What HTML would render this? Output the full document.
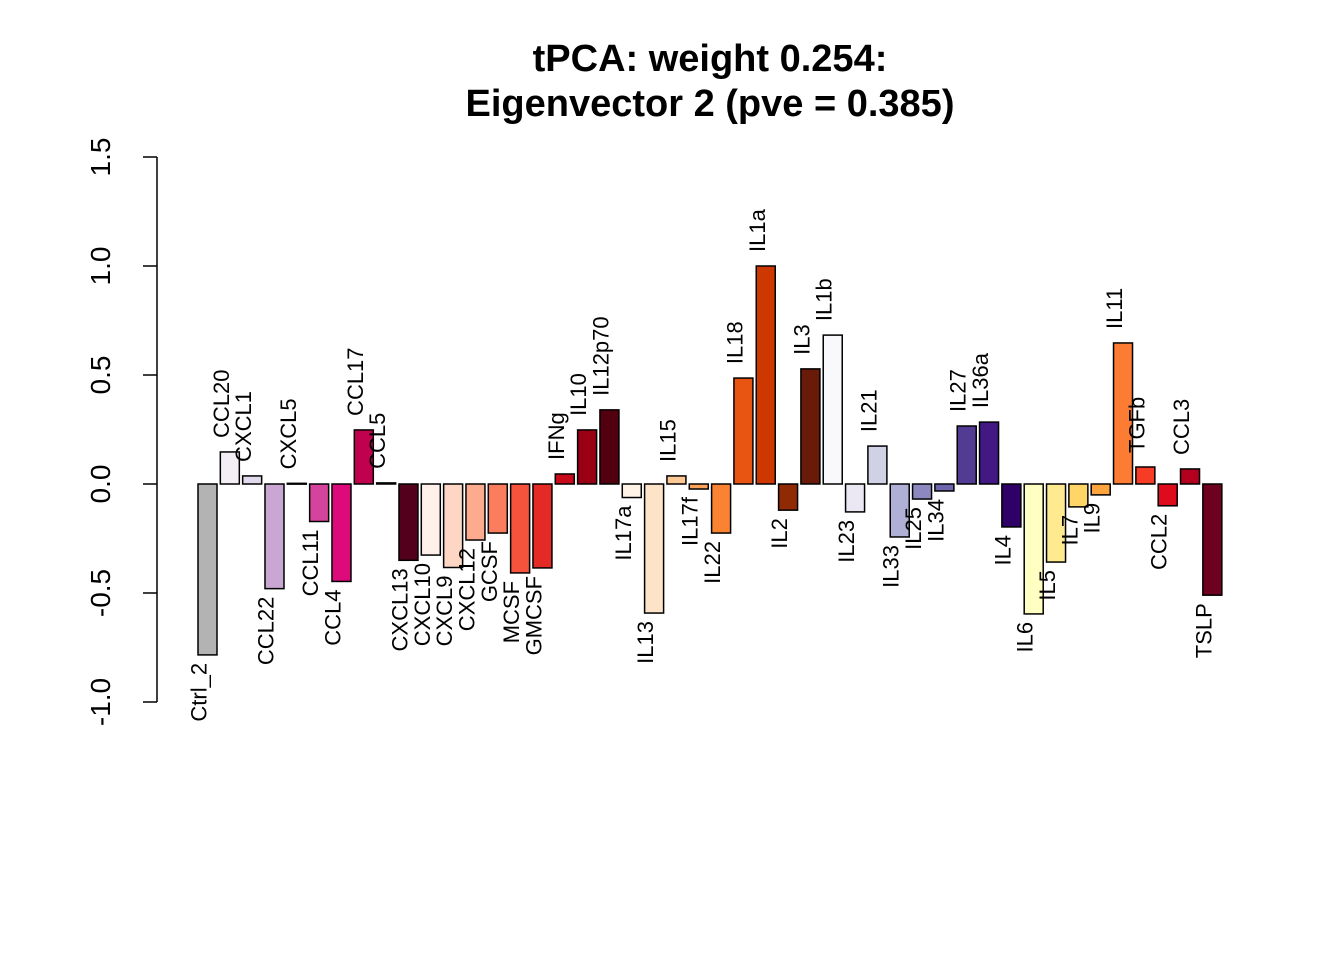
<!DOCTYPE html>
<html><head><meta charset="utf-8"><style>
html,body{margin:0;padding:0;background:#fff;}
svg{display:block;font-family:"Liberation Sans",Arial,sans-serif;}
</style></head><body>
<svg id="chart" width="1344" height="960" viewBox="0 0 1344 960" xmlns="http://www.w3.org/2000/svg">
<text x="710" y="71" text-anchor="middle" font-size="38" font-weight="bold">tPCA: weight 0.254:</text>
<text x="710" y="116" text-anchor="middle" font-size="38" font-weight="bold">Eigenvector 2 (pve = 0.385)</text>
<g id="yaxis"></g>
<g id="bars"></g>
<g id="labels"></g>
</svg>
<script>
const categories = ["Ctrl_2","CCL20","CXCL1","CCL22","CXCL5","CCL11","CCL4","CCL17","CCL5","CXCL13","CXCL10","CXCL9","CXCL12","GCSF","MCSF","GMCSF","IFNg","IL10","IL12p70","IL17a","IL13","IL15","IL17f","IL22","IL18","IL1a","IL2","IL3","IL1b","IL23","IL21","IL33","IL25","IL34","IL27","IL36a","IL4","IL6","IL5","IL7","IL9","IL11","TGFb","CCL2","CCL3","TSLP"];
const values = [-0.784,0.147,0.037,-0.48,0.003,-0.172,-0.447,0.248,0.005,-0.35,-0.326,-0.383,-0.257,-0.225,-0.408,-0.385,0.046,0.248,0.34,-0.062,-0.592,0.037,-0.023,-0.225,0.486,1.0,-0.12,0.528,0.683,-0.128,0.174,-0.243,-0.069,-0.032,0.266,0.284,-0.197,-0.596,-0.358,-0.105,-0.05,0.647,0.078,-0.1,0.069,-0.51];
const colors = ["#b3b3b3","#f3eef5","#e1d9ec","#c9a7d2","#f5eef6","#d4449c","#dd0a7b","#c0024e","#8f0038","#52001c","#fff0ea","#fdd6c4","#fcab8e","#fb7d5e","#f5533c","#e52a25","#c8091a","#990013","#52000f","#fff3e8","#fde3c8","#fdc894","#fda35b","#f98233","#e85512","#cc3800","#8f2a05","#6a1a08","#f9f9fc","#ebe8f3","#d1d1e6","#b0b0d6","#8e88c0","#6d65ad","#523b92","#411884","#2f0068","#ffffc2","#ffea90","#fed566","#fea43c","#fc7c33","#f63c25","#dd0b1c","#b3001f","#6e0020"];
const yTicks = [-1.0,-0.5,0.0,0.5,1.0,1.5];
const yTickLabels = ["-1.0","-0.5","0.0","0.5","1.0","1.5"];

const NS="http://www.w3.org/2000/svg";
const y0px=484, unitPx=218, x0=198, step=22.33, bw=19;
function yScale(v){return y0px - v*unitPx;}
function xScale(i){return x0 + i*step;}
function mk(tag,attrs,parent){const e=document.createElementNS(NS,tag);for(const k in attrs)e.setAttribute(k,attrs[k]);parent.appendChild(e);return e;}

const yaxis=document.getElementById('yaxis');
const axLine=mk('line',{x1:157,x2:157,y1:yScale(yTicks[yTicks.length-1]),y2:yScale(yTicks[0]),stroke:'#000','stroke-width':1.5},yaxis);


yTicks.forEach((t,i)=>{
  const y=yScale(t);
  const tk=mk('line',{x1:143,x2:157,y1:y,y2:y,stroke:'#000','stroke-width':1.5},yaxis);
  
  
  const tx=mk('text',{x:110,y:y,'text-anchor':'middle','font-size':28,transform:`rotate(-90 110 ${y})`},yaxis);
  
  
  tx.textContent=yTickLabels[i];
});

const bars=document.getElementById('bars'), labels=document.getElementById('labels');
categories.forEach((c,i)=>{
  const v=values[i], x=xScale(i), y=yScale(v);
  const top=Math.min(y,y0px), h=Math.max(Math.abs(y-y0px),0.8);
  const r=mk('rect',{x:x,y:top,width:bw,height:h,fill:colors[i],stroke:'#000','stroke-width':1.5},bars);
  
  
  const lx=x+bw/2-1;
  let ly, anchor;
  if(v>=0){ly=y-14;anchor='start';}else{ly=y+8;anchor='end';}
  const t=mk('text',{x:lx,y:ly,'text-anchor':anchor,'font-size':22,transform:`rotate(-90 ${lx} ${ly})`},labels);
  
  
  t.textContent=c;
});
</script>
</body></html>
